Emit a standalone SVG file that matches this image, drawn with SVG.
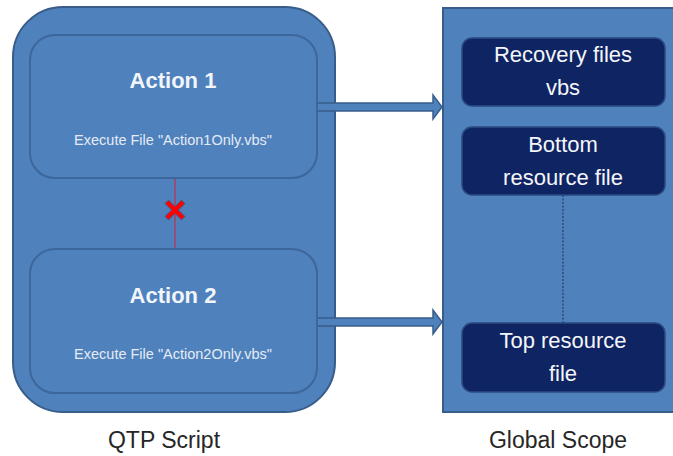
<svg xmlns="http://www.w3.org/2000/svg" width="673" height="456" viewBox="0 0 673 456">
<defs>
<style>
.panel{fill:#4f81bd;stroke:#385d8a;stroke-width:2}
.act{fill:#4f81bd;stroke:#3d669a;stroke-width:2}
.dark{fill:#0f2462;stroke:#2b4a80;stroke-width:1.5}
.title{font-family:"Liberation Sans",Arial,sans-serif;font-weight:bold;font-size:22px;fill:#f2f5fa;text-anchor:middle}
.small{font-family:"Liberation Sans",Arial,sans-serif;font-size:14.5px;fill:#e4ebf5;text-anchor:middle}
.box{font-family:"Liberation Sans",Arial,sans-serif;font-size:22px;fill:#f4f6fa;text-anchor:middle}
.cap{font-family:"Liberation Sans",Arial,sans-serif;font-size:23px;fill:#262626;text-anchor:middle}
.barrow{fill:#4f81bd;stroke:#385d8a;stroke-width:1.5;stroke-linejoin:miter}
</style>
</defs>
<rect width="673" height="456" fill="#ffffff"/>
<g id="qtp-script">
<rect class="panel" x="13" y="7" width="322" height="405" rx="50" ry="50"/>
<text class="cap" x="164" y="448">QTP Script</text>
</g>
<g id="global-scope">
<rect class="panel" x="443" y="8" width="240" height="404"/>
<text class="cap" x="558" y="448">Global Scope</text>
</g>
<g id="connectors">
<line x1="175" y1="178" x2="175" y2="249" stroke="#c0304a" stroke-width="1.2"/>
<g stroke-linecap="butt">
<path d="M166.5,201.5 L183.5,218.5 M183.5,201.5 L166.5,218.5" stroke="#36507a" stroke-width="6" opacity="0.6"/>
<path d="M167,202 L183,218 M183,202 L167,218" stroke="#ff0000" stroke-width="4"/>
</g>
<path class="barrow" d="M317,103 L433,103 L433,95 L442,107 L433,119 L433,111 L317,111 Z"/>
<path class="barrow" d="M317,318 L433,318 L433,310 L442,322 L433,334 L433,326 L317,326 Z"/>
<line x1="563" y1="195" x2="563" y2="323" stroke="#1a2a50" stroke-width="1" stroke-dasharray="2,1.5"/>
</g>
<g id="action1">
<rect class="act" x="30" y="35" width="287" height="143" rx="25" ry="25"/>
<text class="title" x="173" y="88">Action 1</text>
<text class="small" x="173" y="145">Execute File "Action1Only.vbs"</text>
</g>
<g id="action2">
<rect class="act" x="30" y="249" width="287" height="144" rx="25" ry="25"/>
<text class="title" x="173" y="303">Action 2</text>
<text class="small" x="173" y="359">Execute File "Action2Only.vbs"</text>
</g>
<g id="recovery">
<rect class="dark" x="462" y="38" width="203" height="68" rx="10" ry="10"/>
<text class="box" x="563" y="62">Recovery files</text>
<text class="box" x="563" y="95">vbs</text>
</g>
<g id="bottom-resource">
<rect class="dark" x="462" y="127" width="203" height="68" rx="10" ry="10"/>
<text class="box" x="563" y="152">Bottom</text>
<text class="box" x="563" y="185">resource file</text>
</g>
<g id="top-resource">
<rect class="dark" x="462" y="323" width="203" height="69" rx="10" ry="10"/>
<text class="box" x="563" y="348">Top resource</text>
<text class="box" x="563" y="381">file</text>
</g>
</svg>
